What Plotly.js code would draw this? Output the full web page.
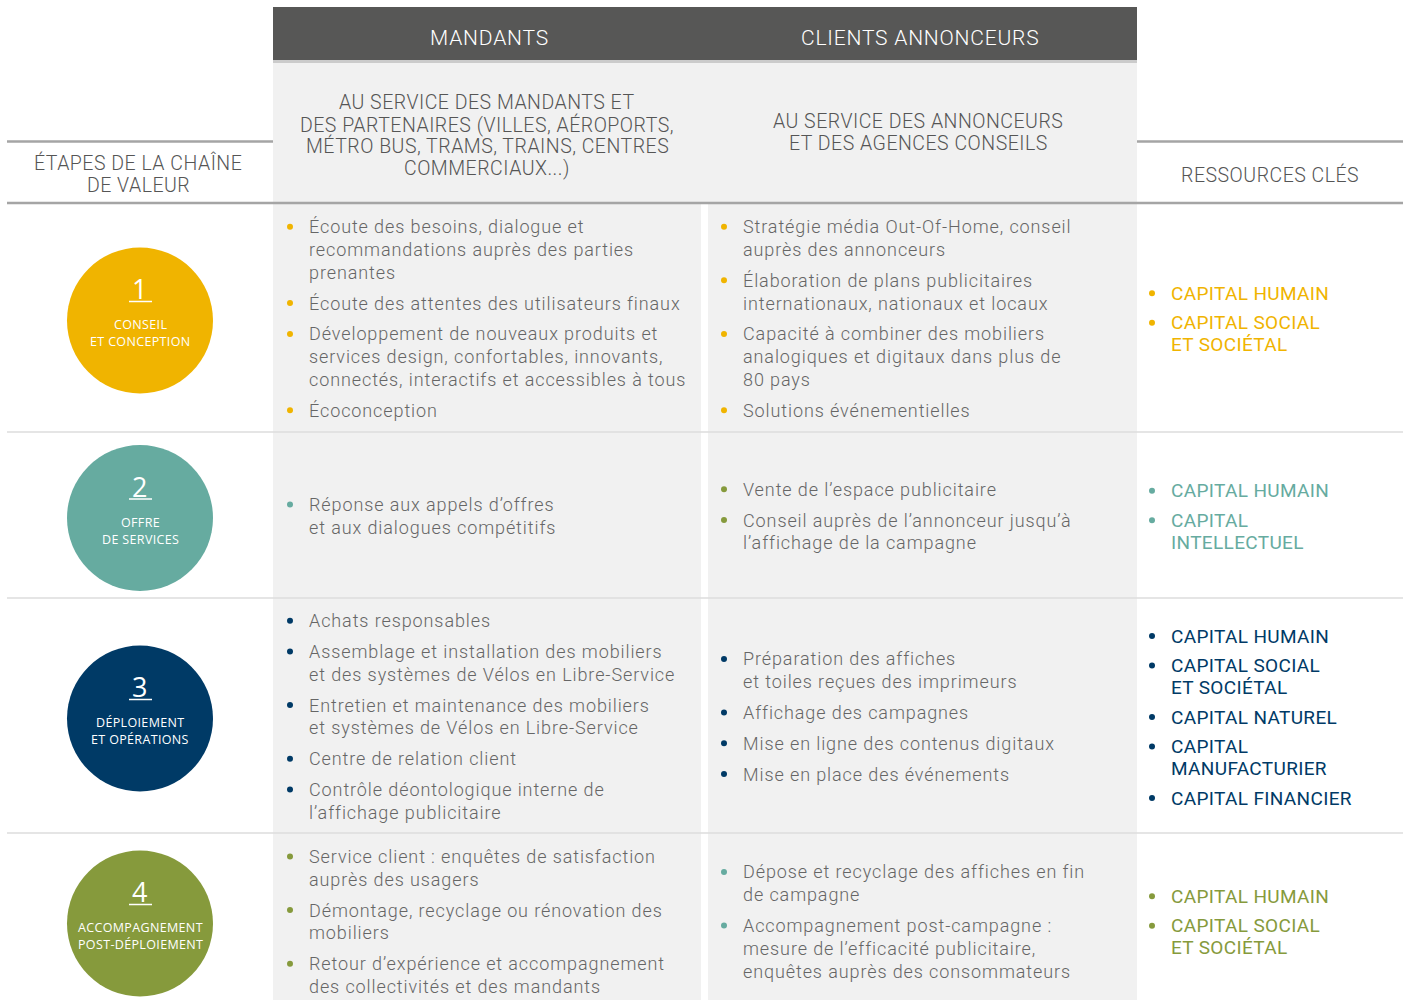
<!DOCTYPE html>
<html>
<head>
<meta charset="utf-8">
<script src="https://cdn.plot.ly/plotly-3.0.1.min.js"></script>
<style>
  html,body{margin:0;padding:0;background:#fff;}
  #chart{width:1404px;height:1000px;}
  .annotation-text{letter-spacing:0.35px;}
  .annotation-text[style*="font-size: 18px"]{letter-spacing:0.9px;}
  .annotation-text[style*="font-size: 19.5px"]{letter-spacing:0.5px;}
  .annotation-text[style*="font-size: 21px"]{letter-spacing:0.8px;}
</style>
</head>
<body>
<div id="chart"></div>
<script>
// ---------------- DATA ----------------
const columnHeaders = ['MANDANTS', 'CLIENTS ANNONCEURS'];
const columnSubHeaders = [
  'AU SERVICE DES MANDANTS ET<br>DES PARTENAIRES (VILLES, AÉROPORTS,<br>MÉTRO BUS, TRAMS, TRAINS, CENTRES<br>COMMERCIAUX...)',
  'AU SERVICE DES ANNONCEURS<br>ET DES AGENCES CONSEILS'
];
const stageHeader = 'ÉTAPES DE LA CHAÎNE<br>DE VALEUR';
const resourcesHeader = 'RESSOURCES CLÉS';

const stageNumbers = ['1', '2', '3', '4'];
const stageNames = ['CONSEIL<br>ET CONCEPTION', 'OFFRE<br>DE SERVICES', 'DÉPLOIEMENT<br>ET OPÉRATIONS', 'ACCOMPAGNEMENT<br>POST-DÉPLOIEMENT'];
const stageColors = ['#f0b400', '#66aba0', '#003a66', '#869a3c'];

const mandantsItems = [
  ['Écoute des besoins, dialogue et<br>recommandations auprès des parties<br>prenantes',
   'Écoute des attentes des utilisateurs finaux',
   'Développement de nouveaux produits et<br>services design, confortables, innovants,<br>connectés, interactifs et accessibles à tous',
   'Écoconception'],
  ['Réponse aux appels d’offres<br>et aux dialogues compétitifs'],
  ['Achats responsables',
   'Assemblage et installation des mobiliers<br>et des systèmes de Vélos en Libre-Service',
   'Entretien et maintenance des mobiliers<br>et systèmes de Vélos en Libre-Service',
   'Centre de relation client',
   'Contrôle déontologique interne de<br>l’affichage publicitaire'],
  ['Service client : enquêtes de satisfaction<br>auprès des usagers',
   'Démontage, recyclage ou rénovation des<br>mobiliers',
   'Retour d’expérience et accompagnement<br>des collectivités et des mandants']
];
const mandantsBulletColors = ['#f0b400', '#66aba0', '#003a66', '#869a3c'];

const clientsItems = [
  ['Stratégie média Out-Of-Home, conseil<br>auprès des annonceurs',
   'Élaboration de plans publicitaires<br>internationaux, nationaux et locaux',
   'Capacité à combiner des mobiliers<br>analogiques et digitaux dans plus de<br>80 pays',
   'Solutions événementielles'],
  ['Vente de l’espace publicitaire',
   'Conseil auprès de l’annonceur jusqu’à<br>l’affichage de la campagne'],
  ['Préparation des affiches<br>et toiles reçues des imprimeurs',
   'Affichage des campagnes',
   'Mise en ligne des contenus digitaux',
   'Mise en place des événements'],
  ['Dépose et recyclage des affiches en fin<br>de campagne',
   'Accompagnement post-campagne :<br>mesure de l’efficacité publicitaire,<br>enquêtes auprès des consommateurs']
];
const clientsBulletColors = ['#f0b400', '#869a3c', '#003a66', '#66aba0'];

const resourcesItems = [
  ['CAPITAL HUMAIN', 'CAPITAL SOCIAL<br>ET SOCIÉTAL'],
  ['CAPITAL HUMAIN', 'CAPITAL<br>INTELLECTUEL'],
  ['CAPITAL HUMAIN', 'CAPITAL SOCIAL<br>ET SOCIÉTAL', 'CAPITAL NATUREL', 'CAPITAL<br>MANUFACTURIER', 'CAPITAL FINANCIER'],
  ['CAPITAL HUMAIN', 'CAPITAL SOCIAL<br>ET SOCIÉTAL']
];
const resourcesColors = ['#f0b400', '#66aba0', '#003a66', '#869a3c'];

// ---------------- LAYOUT GEOMETRY ----------------
const W = 1404, H = 1000;
const rowEdges = [203, 432, 598, 833, 1009];
const FONT = 'Roboto, "Open Sans", sans-serif';
const TEXT_COLOR = '#666666';
const HEAD_COLOR = '#555555';

const shapes = [];
const annotations = [];
const traces = [];

function rect(x0, y0, x1, y1, color) {
  shapes.push({type: 'rect', xref: 'x', yref: 'y', x0, y0, x1, y1, fillcolor: color, line: {width: 0}, layer: 'below'});
}
function hline(x0, x1, y, color, w) {
  shapes.push({type: 'line', xref: 'x', yref: 'y', x0, x1, y0: y, y1: y, line: {color, width: w}, layer: 'below'});
}
function text(t, x, y, opts) {
  annotations.push(Object.assign({
    text: t, x, y, xref: 'x', yref: 'y', showarrow: false,
    xanchor: 'left', yanchor: 'middle', borderpad: 0, borderwidth: 0,
    font: {family: FONT, size: 18, color: TEXT_COLOR, weight: 300}
  }, opts));
}

// backgrounds
rect(273, 7, 1137, 60, '#575756');
rect(273, 60, 1137, 63, '#cbcbcb');
rect(273, 63, 1137, 203, '#f1f1f1');
rect(273, 203, 701, H, '#f1f1f1');
rect(708, 203, 1137, H, '#f1f1f1');
hline(7, 273, 141.5, '#a5a5a5', 2.5);
hline(1137, 1403, 141.5, '#a5a5a5', 2.5);
hline(7, 1403, 203, '#a5a5a5', 2.5);
for (let i = 1; i < rowEdges.length - 1; i++) hline(7, 1403, rowEdges[i], '#dcdcdc', 1.5);

// headers
const colCenters = [489, 920];
columnHeaders.forEach((h, i) => text(h, colCenters[i], 38, {xanchor: 'center', font: {family: FONT, size: 21, color: '#ffffff', weight: 300}}));
const subCenters = [487, 918];
const subMid = [135.5, 132.5];
columnSubHeaders.forEach((s, i) => {
  const lines = s.split('<br>');
  const LH = 21.7;
  const start = subMid[i] - (lines.length - 1) * LH / 2;
  lines.forEach((l, k) => text(l, subCenters[i], start + k * LH, {xanchor: 'center', font: {family: FONT, size: 19.5, color: HEAD_COLOR, weight: 300}}));
});
stageHeader.split('<br>').forEach((l, k) => text(l, 138, 163 + k * 22, {xanchor: 'center', font: {family: FONT, size: 19.5, color: HEAD_COLOR, weight: 300}}));
text(resourcesHeader, 1270, 175, {xanchor: 'center', font: {family: FONT, size: 19.5, color: HEAD_COLOR, weight: 300}});

// cells
function layoutCell(items, rowCenter, textX, bulletX, color, LH, GAP, fontSize, textColor, weight, bullets) {
  const nLines = items.reduce((s, it) => s + it.split('<br>').length, 0);
  const total = (nLines - items.length) * LH + (items.length - 1) * GAP;
  let y = rowCenter - total / 2;
  items.forEach(it => {
    const lines = it.split('<br>');
    bullets.x.push(bulletX); bullets.y.push(y); bullets.c.push(color);
    lines.forEach((l, k) => {
      text(l, textX, y, {font: {family: FONT, size: fontSize, color: textColor, weight}});
      if (k < lines.length - 1) y += LH;
    });
    y += GAP;
  });
}

const bullets = {x: [], y: [], c: []};
const circ = {x: [], y: [], c: []};
for (let r = 0; r < 4; r++) {
  const rc = (rowEdges[r] + rowEdges[r + 1]) / 2 + (r === 3 ? -0.5 : 0);
  layoutCell(mandantsItems[r], rc + 1, 309, 290, mandantsBulletColors[r], 22.8, 30.8, 18, TEXT_COLOR, 300, bullets);
  layoutCell(clientsItems[r], rc + 1, 743, 724, clientsBulletColors[r], 22.8, 30.8, 18, TEXT_COLOR, 300, bullets);
  layoutCell(resourcesItems[r], rc + 1.5, 1171, 1152, resourcesColors[r], 22, 29.5, 19, resourcesColors[r], 400, bullets);

  const cy = rc + 3;
  circ.x.push(140); circ.y.push(cy); circ.c.push(stageColors[r]);
  text(stageNumbers[r], 140, cy - 32, {xanchor: 'center', font: {family: '"Open Sans", sans-serif', size: 27, color: '#ffffff', weight: 400}});
  shapes.push({type: 'line', xref: 'x', yref: 'y', x0: 129, x1: 152, y0: cy - 19, y1: cy - 19, line: {color: '#ffffff', width: 1.5}, layer: 'above'});
  stageNames[r].split('<br>').forEach((l, k) => text(l, 140, cy + 4 + k * 17, {xanchor: 'center', font: {family: '"Open Sans", sans-serif', size: 12.5, color: '#ffffff', weight: 400}}));
}

traces.push({
  type: 'scatter', mode: 'markers', x: circ.x, y: circ.y, hoverinfo: 'skip',
  marker: {size: 146, color: circ.c, line: {width: 0}}
});
traces.push({
  type: 'scatter', mode: 'markers', x: bullets.x, y: bullets.y, hoverinfo: 'skip',
  marker: {size: 6, color: bullets.c, line: {width: 0}}
});

const layout = {
  width: W, height: H,
  margin: {l: 0, r: 0, t: 0, b: 0, pad: 0},
  paper_bgcolor: '#ffffff', plot_bgcolor: '#ffffff',
  showlegend: false,
  xaxis: {range: [0, W], visible: false, fixedrange: true},
  yaxis: {range: [H, 0], visible: false, fixedrange: true},
  shapes, annotations
};
Plotly.newPlot('chart', traces, layout, {displayModeBar: false, staticPlot: true});
</script>
</body>
</html>
